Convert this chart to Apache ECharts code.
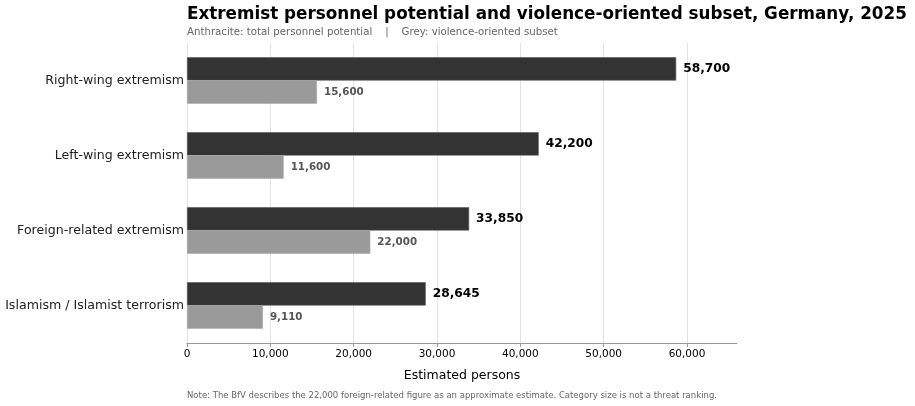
<!DOCTYPE html>
<html>
<head>
<meta charset="utf-8">
<script src="https://cdn.jsdelivr.net/npm/echarts@6/dist/echarts.min.js"></script>
<style>
  html, body { margin: 0; padding: 0; background: #fff; }
  #chart { width: 915px; height: 406px; }
</style>
</head>
<body>
<div id="chart"></div>
<script>
var categories = ['Right-wing extremism', 'Left-wing extremism', 'Foreign-related extremism', 'Islamism / Islamist terrorism'];
var totalPotential = [58700, 42200, 33850, 28645];
var violenceOriented = [15600, 11600, 22000, 9110];

var fontFam = '"DejaVu Sans", sans-serif';
function fmt(v) { return Number(v).toLocaleString('en-US'); }

var chart = echarts.init(document.getElementById('chart'));
chart.setOption({
  animation: false,
  backgroundColor: '#fff',
  textStyle: { fontFamily: fontFam },
  title: [
    {
      text: 'Extremist personnel potential and violence-oriented subset, Germany, 2025',
      left: 182, top: 1,
      textStyle: { fontFamily: fontFam, fontSize: 16.8, fontWeight: 'bold', color: '#000' }
    },
    {
      text: 'Anthracite: total personnel potential    |    Grey: violence-oriented subset',
      left: 182, top: 22,
      textStyle: { fontFamily: fontFam, fontSize: 10.2, fontWeight: 'normal', color: '#666' }
    },
    {
      text: 'Note: The BfV describes the 22,000 foreign-related figure as an approximate estimate. Category size is not a threat ranking.',
      left: 182, top: 386,
      textStyle: { fontFamily: fontFam, fontSize: 8.5, fontWeight: 'normal', color: '#666' }
    }
  ],
  grid: { left: 187, right: 178, top: 43, bottom: 63, containLabel: false },
  xAxis: {
    type: 'value',
    min: 0, max: 66000, interval: 10000,
    name: 'Estimated persons',
    nameLocation: 'middle',
    nameGap: 26,
    nameTextStyle: { fontFamily: fontFam, fontSize: 12.5, color: '#000' },
    axisLine: { show: true, lineStyle: { color: '#999', width: 1 } },
    axisTick: { show: true, length: 4, lineStyle: { color: '#999' } },
    axisLabel: {
      fontFamily: fontFam, fontSize: 10.5, color: '#000', margin: 6,
      showMaxLabel: false,
      formatter: function (v) { return fmt(v); }
    },
    splitLine: { show: true, showMaxLine: false, lineStyle: { color: '#e3e3e3', width: 1 } }
  },
  yAxis: {
    type: 'category',
    data: categories,
    inverse: true,
    axisLine: { show: false },
    axisTick: { show: false },
    axisLabel: { fontFamily: fontFam, fontSize: 12.6, color: '#222', margin: 3 }
  },
  series: [
    {
      name: 'Total personnel potential',
      type: 'bar',
      data: totalPotential,
      barGap: '0%',
      barCategoryGap: '38%',
      itemStyle: { color: '#333333', borderColor: '#555', borderWidth: 0.6 },
      label: {
        show: true, position: 'right', distance: 7,
        fontFamily: fontFam, fontSize: 12.2, fontWeight: 'bold', color: '#000',
        formatter: function (p) { return fmt(p.value); }
      }
    },
    {
      name: 'Violence-oriented subset',
      type: 'bar',
      data: violenceOriented,
      itemStyle: { color: '#9a9a9a', borderColor: '#aaa', borderWidth: 0.6 },
      label: {
        show: true, position: 'right', distance: 7,
        fontFamily: fontFam, fontSize: 10.3, fontWeight: 'bold', color: '#555',
        formatter: function (p) { return fmt(p.value); }
      }
    }
  ]
});
</script>
</body>
</html>
